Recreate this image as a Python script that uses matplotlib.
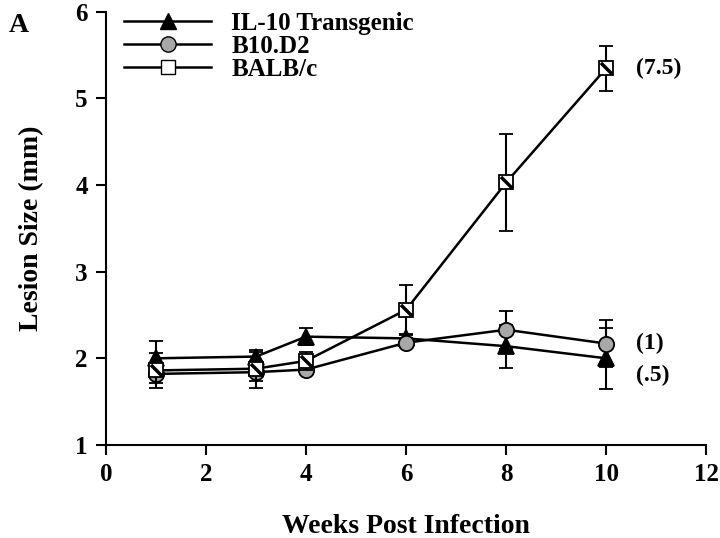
import matplotlib.pyplot as plt
import numpy as np
from matplotlib.path import Path
from matplotlib.lines import Line2D

weeks = np.array([1, 3, 4, 6, 8, 10])

il10 = np.array([2.00, 2.02, 2.25, 2.23, 2.14, 2.00])
il10_err = np.array([0.20, 0.05, 0.10, 0.05, 0.25, 0.35])

b10 = np.array([1.82, 1.84, 1.87, 2.18, 2.33, 2.17])
b10_err = np.array([0.10, 0.10, 0.05, 0.05, 0.22, 0.27])

balb = np.array([1.86, 1.88, 1.97, 2.56, 4.03, 5.35])
balb_err = np.array([0.20, 0.22, 0.10, 0.29, 0.56, 0.26])

labels = ["IL-10 Transgenic", "B10.D2", "BALB/c"]
end_notes = ["(.5)", "(1)", "(7.5)"]
note_y = [1.80, 2.17, 5.35]

plt.rcParams['font.family'] = ['Liberation Serif', 'DejaVu Serif']
plt.rcParams['font.weight'] = 'bold'

fig = plt.figure(figsize=(7.2, 5.38), dpi=100)
ax = fig.add_axes([0.147, 0.173, 0.834, 0.805])

common = dict(color="black", linewidth=1.8, ecolor="black", elinewidth=1.5,
              capsize=5, capthick=1.5, mec="black", mew=1.3)

ax.errorbar(weeks, il10, yerr=il10_err, marker="^", ms=11, mfc="black",
            zorder=3, **common)
ax.errorbar(weeks, b10, yerr=b10_err, marker="o", ms=11, mfc="#a8a8a8",
            zorder=4, **common)
ax.errorbar(weeks, balb, yerr=balb_err, marker="s", ms=10, mfc="white",
            zorder=5, **common)

# diagonal stroke inside the square markers
diag = Path([(-0.45, 0.45), (0.45, -0.45)], [Path.MOVETO, Path.LINETO])
ax.plot(weeks, balb, linestyle="none", marker=diag, ms=8, mec="black",
        mew=2.5, zorder=6)

for t, y in zip(end_notes, note_y):
    ax.text(10.6, y, t, fontsize=17, fontweight="bold", va="center", ha="left")

ax.set_xlim(0, 12)
ax.set_ylim(1, 6)
ax.set_xticks([0, 2, 4, 6, 8, 10, 12])
ax.set_yticks([1, 2, 3, 4, 5, 6])
ax.spines["top"].set_visible(False)
ax.spines["right"].set_visible(False)
ax.spines["left"].set_linewidth(1.5)
ax.spines["bottom"].set_linewidth(1.5)
ax.tick_params(direction="out", length=7, width=1.5, labelsize=18, pad=6)

ax.set_xlabel("Weeks Post Infection", fontsize=20, fontweight="bold", labelpad=20)
ax.set_ylabel("Lesion Size (mm)", fontsize=20, fontweight="bold", labelpad=22)

handles = [
    Line2D([], [], color="black", lw=1.8, marker="^", ms=11, mfc="black", mec="black"),
    Line2D([], [], color="black", lw=1.8, marker="o", ms=11, mfc="#a8a8a8", mec="black"),
    Line2D([], [], color="black", lw=1.8, marker="s", ms=10, mfc="white", mec="black"),
]
leg = ax.legend(handles, labels, loc="upper left", bbox_to_anchor=(0.03, 1.0),
                frameon=False, fontsize=18, handlelength=3.5, handletextpad=0.8,
                labelspacing=0.0, borderpad=0, borderaxespad=0)

fig.text(0.012, 0.975, "A", fontsize=20, fontweight="bold", va="top", ha="left")

fig.savefig("out.png", dpi=100)
